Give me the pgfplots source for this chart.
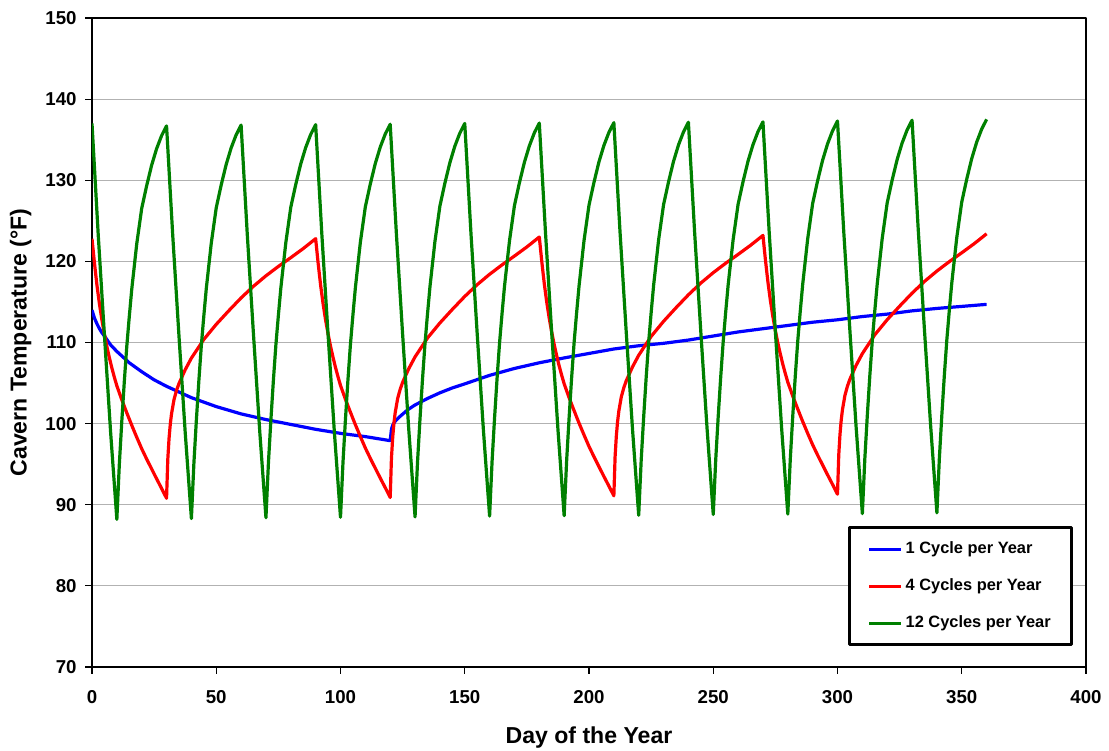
\documentclass[border=0pt]{standalone}
\usepackage{fontspec}
\setmainfont{Liberation Sans}
\usepackage{pgfplots}
\pgfplotsset{compat=1.18}
\definecolor{cblue}{RGB}{0,0,255}
\definecolor{cred}{RGB}{255,0,0}
\definecolor{cgreen}{RGB}{0,128,0}
\begin{document}
\begin{tikzpicture}
\path[use as bounding box] (-69pt,-62.25pt) rectangle (762.75pt,500.25pt);
\begin{axis}[
  at={(0pt,0pt)}, anchor=south west,
  scale only axis, width=745.5pt, height=486.75pt,
  xmin=0, xmax=400, ymin=70, ymax=150,
  xtick={0,50,...,400}, ytick={70,80,...,150},
  xtick pos=bottom, ytick pos=left,
  tick align=outside, major tick length=5pt,
  tick style={black, line width=0.8pt},
  axis line style={black, line width=2pt},
  ymajorgrids, major grid style={gray!60, line width=0.75pt},
  /pgf/number format/assume math mode=true,
  ticklabel style={font=\bfseries\fontsize{14}{16}\selectfont},
  xticklabel style={yshift=-9pt},
  yticklabel style={xshift=-3pt},
  every axis x label/.style={at={([yshift=-57.2pt]axis description cs:0.5,0)}, anchor=base, font=\bfseries\fontsize{17.3}{20}\selectfont},
  every axis y label/.style={at={([xshift=-49pt]axis description cs:0,0.5)}, anchor=base, rotate=90, font=\bfseries\fontsize{17.3}{20}\selectfont},
  xlabel={Day of the Year},
  ylabel={Cavern Temperature (°F)},
  legend style={at={(0.98692,0.03236)}, anchor=south east, draw=black, line width=2pt,
    inner xsep=13.75pt, inner ysep=8.4pt, row sep=12.25pt,
    font=\bfseries\fontsize{12.3}{14}\selectfont,
    nodes={inner sep=2pt, text height=9pt, text depth=2.5pt}},
  legend cell align=left,
  legend image code/.code={\draw[#1] (0pt,0pt) -- (24pt,0pt);},
  line join=round,
]
\addplot[cblue, line width=2.4pt] coordinates {
(0,114.0)(1,113.0)(2,112.3)(3,111.7)(4,111.2)(5,110.8)(7.5,109.7)(10,108.9)(15,107.5)(20,106.4)(25,105.4)(30,104.6)(40,103.2)(50,102.1)(60,101.2)(70,100.5)(80,99.9)(90,99.3)(100,98.8)(110,98.4)(120,97.9)
(120.5,99.3)(121,99.8)(122,100.3)(124,100.9)(127,101.7)(130,102.3)(135,103.1)(140,103.8)(145,104.4)(150,104.9)(160,105.95)(170,106.8)(180,107.5)(190,108.1)(200,108.65)(210,109.2)(220,109.6)(230,109.9)(240,110.3)(250,110.8)(260,111.3)(270,111.7)(280,112.1)(290,112.5)(300,112.8)(310,113.2)(320,113.5)(330,113.9)(340,114.2)(350,114.45)(360,114.7)
};
\addlegendentry{1 Cycle per Year}
\addplot[cred, line width=2.4pt] coordinates {
(0,122.8)(1,119.76)(2,117.04)(3,114.74)(4,112.75)(5,111.02)(6,109.49)(7,108.11)(8,106.86)(9,105.71)(10,104.66)(12,102.93)(14,101.33)(16,99.79)(18,98.32)(20,96.91)(22,95.63)(24,94.42)(26,93.2)(28,92.02)(30,90.8)
(30.5,95.6)(31,98.16)(31.5,99.92)(32,101.2)(33,102.96)(34,104.08)(35,104.94)(37.5,106.64)(40,108.08)(45,110.38)(50,112.24)(55,113.9)(60,115.5)(65,116.94)(70,118.22)(75,119.38)(80,120.46)(85,121.58)(90,122.8)
(91,119.77)(92,117.06)(93,114.76)(94,112.78)(95,111.06)(96,109.53)(97,108.16)(98,106.91)(99,105.77)(100,104.71)(102,102.99)(104,101.4)(106,99.86)(108,98.4)(110,96.99)(112,95.72)(114,94.5)(116,93.29)(118,92.11)(120,90.9)
(120.5,95.72)(121,98.28)(121.5,100.05)(122,101.33)(123,103.1)(124,104.22)(125,105.09)(127.5,106.79)(130,108.23)(135,110.55)(140,112.41)(145,114.08)(150,115.68)(155,117.13)(160,118.41)(165,119.57)(170,120.66)(175,121.78)(180,123.0)
(181,119.97)(182,117.26)(183,114.96)(184,112.98)(185,111.26)(186,109.73)(187,108.36)(188,107.11)(189,105.97)(190,104.91)(192,103.19)(194,101.6)(196,100.06)(198,98.6)(200,97.19)(202,95.92)(204,94.7)(206,93.49)(208,92.31)(210,91.1)
(210.5,95.92)(211,98.48)(211.5,100.25)(212,101.53)(213,103.3)(214,104.42)(215,105.29)(217.5,106.99)(220,108.43)(225,110.75)(230,112.61)(235,114.28)(240,115.88)(245,117.33)(250,118.61)(255,119.77)(260,120.86)(265,121.98)(270,123.2)
(271,120.17)(272,117.46)(273,115.16)(274,113.18)(275,111.46)(276,109.93)(277,108.56)(278,107.31)(279,106.17)(280,105.11)(282,103.39)(284,101.8)(286,100.26)(288,98.8)(290,97.39)(292,96.12)(294,94.9)(296,93.69)(298,92.51)(300,91.3)
(300.5,96.12)(301,98.68)(301.5,100.45)(302,101.73)(303,103.5)(304,104.62)(305,105.49)(307.5,107.19)(310,108.63)(315,110.95)(320,112.81)(325,114.48)(330,116.08)(335,117.53)(340,118.81)(345,119.97)(350,121.06)(355,122.18)(360,123.4)
};
\addlegendentry{4 Cycles per Year}
\addplot[cgreen, line width=2.4pt] coordinates {
(0,137.0)(2.5,123.3)(5,110.9)(7.5,98.9)(10,88.2)(11,94.99)(12,100.33)(13,105.18)(14,109.54)(15,113.18)(16,116.57)(18,122.15)(20,126.52)(22,129.33)(24,131.85)(26,133.89)(28,135.49)(30,136.7)
(32.5,123.15)(35,110.81)(37.5,98.95)(40,88.3)(41,95.09)(42,100.43)(43,105.28)(44,109.64)(45,113.28)(46,116.67)(48,122.25)(50,126.62)(52,129.43)(54,131.95)(56,133.99)(58,135.59)(60,136.8)
(62.5,123.25)(65,110.91)(67.5,99.05)(70,88.4)(71,95.18)(72,100.51)(73,105.36)(74,109.72)(75,113.35)(76,116.74)(78,122.32)(80,126.68)(82,129.49)(84,132.01)(86,134.04)(88,135.64)(90,136.85)
(92.5,123.3)(95,110.96)(97.5,99.1)(100,88.45)(101,95.23)(102,100.56)(103,105.41)(104,109.77)(105,113.4)(106,116.79)(108,122.37)(110,126.73)(112,129.54)(114,132.06)(116,134.09)(118,135.69)(120,136.9)
(122.5,123.35)(125,111.01)(127.5,99.15)(130,88.5)(131,95.29)(132,100.63)(133,105.48)(134,109.84)(135,113.48)(136,116.87)(138,122.45)(140,126.82)(142,129.63)(144,132.15)(146,134.19)(148,135.79)(150,137.0)
(152.5,123.45)(155,111.11)(157.5,99.25)(160,88.6)(161,95.38)(162,100.71)(163,105.56)(164,109.92)(165,113.55)(166,116.94)(168,122.52)(170,126.88)(172,129.69)(174,132.21)(176,134.24)(178,135.84)(180,137.05)
(182.5,123.5)(185,111.16)(187.5,99.3)(190,88.65)(191,95.43)(192,100.76)(193,105.61)(194,109.97)(195,113.6)(196,116.99)(198,122.57)(200,126.93)(202,129.74)(204,132.26)(206,134.29)(208,135.89)(210,137.1)
(212.5,123.55)(215,111.21)(217.5,99.35)(220,88.7)(221,95.48)(222,100.81)(223,105.66)(224,110.02)(225,113.65)(226,117.04)(228,122.62)(230,126.98)(232,129.79)(234,132.31)(236,134.34)(238,135.94)(240,137.15)
(242.5,123.61)(245,111.28)(247.5,99.44)(250,88.8)(251,95.58)(252,100.9)(253,105.74)(254,110.1)(255,113.73)(256,117.11)(258,122.68)(260,127.04)(262,129.84)(264,132.36)(266,134.39)(268,135.99)(270,137.2)
(272.5,123.66)(275,111.33)(277.5,99.49)(280,88.85)(281,95.63)(282,100.96)(283,105.81)(284,110.17)(285,113.8)(286,117.19)(288,122.77)(290,127.13)(292,129.94)(294,132.46)(296,134.49)(298,136.09)(300,137.3)
(302.5,123.75)(305,111.41)(307.5,99.55)(310,88.9)(311,95.69)(312,101.03)(313,105.88)(314,110.24)(315,113.88)(316,117.27)(318,122.85)(320,127.22)(322,130.03)(324,132.55)(326,134.59)(328,136.19)(330,137.4)
(332.5,123.85)(335,111.51)(337.5,99.65)(340,89.0)(341,95.79)(342,101.13)(343,105.98)(344,110.34)(345,113.98)(346,117.37)(348,122.95)(350,127.32)(352,130.13)(354,132.65)(356,134.69)(358,136.29)(360,137.5)
};
\addlegendentry{12 Cycles per Year}
\end{axis}
\end{tikzpicture}
\end{document}
